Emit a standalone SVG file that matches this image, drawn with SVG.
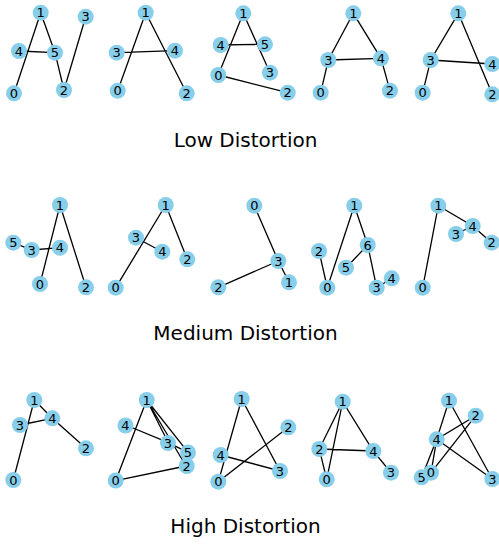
<svg xmlns="http://www.w3.org/2000/svg" width="499" height="545" viewBox="0 0 499 545">
<style>
.e{stroke:#000;stroke-width:1.3;fill:none}
.n use{fill:#87CEEB}
.n text{font-family:"DejaVu Sans",sans-serif;font-size:13px;fill:#000;text-anchor:middle}
.t{font-family:"DejaVu Sans",sans-serif;font-size:20px;fill:#000;text-anchor:middle}
</style>
<rect width="499" height="545" fill="#fff"/>
<defs><circle id="c" r="8" fill="#87CEEB"/></defs>
<g id="connectors">
<path class="e" d="M40.7,12.7L14,93.3M40.7,12.7L55,52.7M55,52.7L64,90M64,90L85.7,16.7M19,51L55,52.7"/>
<path class="e" d="M145.7,12.7L117.7,90.7M145.7,12.7L186.7,93.3M116.7,52.7L175,50.7"/>
<path class="e" d="M243.3,13.3L218.3,75M243.3,13.3L270,72.7M220.7,45L265,44.3M218.3,75L287.7,92.7"/>
<path class="e" d="M353.3,13.3L328.3,60L320.7,92.7M353.3,13.3L381,58.3L390,90.7M328.3,60L381,58.3"/>
<path class="e" d="M458.3,13.3L430.7,60L422.7,92.7M458.3,13.3L492.3,94.3M430.7,60L492.3,64"/>
<path class="e" d="M60,205L40,284M60,205L86,287.3M13.3,242.7L31.7,250L60,247.7"/>
<path class="e" d="M165.7,205L115.7,287.7M165.7,205L187.3,259.3M136,237.7L162.3,251.7"/>
<path class="e" d="M254.3,205.7L278.3,261L289,282.3M278.3,261L218.3,287.3"/>
<path class="e" d="M354.3,205.7L327.3,287.7L319,251M354.3,205.7L367.7,245L376.7,287.7L391.7,278.3M367.7,245L346,267.7"/>
<path class="e" d="M438.3,205.7L422.7,287.7M438.3,205.7L472.7,226L491.7,242.7M472.7,226L456,234"/>
<path class="e" d="M34.3,400L13.3,480M34.3,400L52.3,418.3L86,448.3M20,425L52.3,418.3"/>
<path class="e" d="M146.7,400L115.7,480.7L186,466M146.7,400L168.3,442.7M146.7,400L186,466M146.7,400L188.3,452.7M125.7,425L168.3,442.7L188.3,452.7"/>
<path class="e" d="M241.7,399L218.3,481.7L288.3,427.3M241.7,399L280,471L220.7,455"/>
<path class="e" d="M342.7,401.7L319.3,449L326.7,479.3L342.7,401.7L373.3,451L391,472.7M319.3,449L373.3,451"/>
<path class="e" d="M449,400.7L436.7,439.3L475.7,415.7L431,472.7L436.7,439.3L421.7,477.3M449,400.7L492.3,479L436.7,439.3"/>
</g>
<g id="r1p1" class="n">
<use href="#c" x="14" y="93.3"/><text x="14" y="98">0</text>
<use href="#c" x="40.7" y="12.7"/><text x="40.7" y="17.4">1</text>
<use href="#c" x="64" y="90"/><text x="64" y="94.7">2</text>
<use href="#c" x="85.7" y="16.7"/><text x="85.7" y="21.4">3</text>
<use href="#c" x="19" y="51"/><text x="19" y="55.7">4</text>
<use href="#c" x="55" y="52.7"/><text x="55" y="57.4">5</text>
</g>
<g id="r1p2" class="n">
<use href="#c" x="117.7" y="90.7"/><text x="117.7" y="95.4">0</text>
<use href="#c" x="145.7" y="12.7"/><text x="145.7" y="17.4">1</text>
<use href="#c" x="186.7" y="93.3"/><text x="186.7" y="98">2</text>
<use href="#c" x="116.7" y="52.7"/><text x="116.7" y="57.4">3</text>
<use href="#c" x="175" y="50.7"/><text x="175" y="55.4">4</text>
</g>
<g id="r1p3" class="n">
<use href="#c" x="218.3" y="75"/><text x="218.3" y="79.7">0</text>
<use href="#c" x="243.3" y="13.3"/><text x="243.3" y="18">1</text>
<use href="#c" x="287.7" y="92.7"/><text x="287.7" y="97.4">2</text>
<use href="#c" x="270" y="72.7"/><text x="270" y="77.4">3</text>
<use href="#c" x="220.7" y="45"/><text x="220.7" y="49.7">4</text>
<use href="#c" x="265" y="44.3"/><text x="265" y="49">5</text>
</g>
<g id="r1p4" class="n">
<use href="#c" x="320.7" y="92.7"/><text x="320.7" y="97.4">0</text>
<use href="#c" x="353.3" y="13.3"/><text x="353.3" y="18">1</text>
<use href="#c" x="390" y="90.7"/><text x="390" y="95.4">2</text>
<use href="#c" x="328.3" y="60"/><text x="328.3" y="64.7">3</text>
<use href="#c" x="381" y="58.3"/><text x="381" y="63">4</text>
</g>
<g id="r1p5" class="n">
<use href="#c" x="422.7" y="92.7"/><text x="422.7" y="97.4">0</text>
<use href="#c" x="458.3" y="13.3"/><text x="458.3" y="18">1</text>
<use href="#c" x="492.3" y="94.3"/><text x="492.3" y="99">2</text>
<use href="#c" x="430.7" y="60"/><text x="430.7" y="64.7">3</text>
<use href="#c" x="492.3" y="64"/><text x="492.3" y="68.7">4</text>
</g>
<g id="r2p1" class="n">
<use href="#c" x="40" y="284"/><text x="40" y="288.7">0</text>
<use href="#c" x="60" y="205"/><text x="60" y="209.7">1</text>
<use href="#c" x="86" y="287.3"/><text x="86" y="292">2</text>
<use href="#c" x="31.7" y="250"/><text x="31.7" y="254.7">3</text>
<use href="#c" x="60" y="247.7"/><text x="60" y="252.4">4</text>
<use href="#c" x="13.3" y="242.7"/><text x="13.3" y="247.4">5</text>
</g>
<g id="r2p2" class="n">
<use href="#c" x="115.7" y="287.7"/><text x="115.7" y="292.4">0</text>
<use href="#c" x="165.7" y="205"/><text x="165.7" y="209.7">1</text>
<use href="#c" x="187.3" y="259.3"/><text x="187.3" y="264">2</text>
<use href="#c" x="136" y="237.7"/><text x="136" y="242.4">3</text>
<use href="#c" x="162.3" y="251.7"/><text x="162.3" y="256.4">4</text>
</g>
<g id="r2p3" class="n">
<use href="#c" x="254.3" y="205.7"/><text x="254.3" y="210.4">0</text>
<use href="#c" x="289" y="282.3"/><text x="289" y="287">1</text>
<use href="#c" x="218.3" y="287.3"/><text x="218.3" y="292">2</text>
<use href="#c" x="278.3" y="261"/><text x="278.3" y="265.7">3</text>
</g>
<g id="r2p4" class="n">
<use href="#c" x="327.3" y="287.7"/><text x="327.3" y="292.4">0</text>
<use href="#c" x="354.3" y="205.7"/><text x="354.3" y="210.4">1</text>
<use href="#c" x="319" y="251"/><text x="319" y="255.7">2</text>
<use href="#c" x="376.7" y="287.7"/><text x="376.7" y="292.4">3</text>
<use href="#c" x="391.7" y="278.3"/><text x="391.7" y="283">4</text>
<use href="#c" x="346" y="267.7"/><text x="346" y="272.4">5</text>
<use href="#c" x="367.7" y="245"/><text x="367.7" y="249.7">6</text>
</g>
<g id="r2p5" class="n">
<use href="#c" x="422.7" y="287.7"/><text x="422.7" y="292.4">0</text>
<use href="#c" x="438.3" y="205.7"/><text x="438.3" y="210.4">1</text>
<use href="#c" x="491.7" y="242.7"/><text x="491.7" y="247.4">2</text>
<use href="#c" x="456" y="234"/><text x="456" y="238.7">3</text>
<use href="#c" x="472.7" y="226"/><text x="472.7" y="230.7">4</text>
</g>
<g id="r3p1" class="n">
<use href="#c" x="13.3" y="480"/><text x="13.3" y="484.7">0</text>
<use href="#c" x="34.3" y="400"/><text x="34.3" y="404.7">1</text>
<use href="#c" x="86" y="448.3"/><text x="86" y="453">2</text>
<use href="#c" x="20" y="425"/><text x="20" y="429.7">3</text>
<use href="#c" x="52.3" y="418.3"/><text x="52.3" y="423">4</text>
</g>
<g id="r3p2" class="n">
<use href="#c" x="115.7" y="480.5"/><text x="115.7" y="485.2">0</text>
<use href="#c" x="146.7" y="400"/><text x="146.7" y="404.7">1</text>
<use href="#c" x="125.5" y="425.5"/><text x="125.5" y="430.2">4</text>
<use href="#c" x="168" y="443"/><text x="168" y="447.7">3</text>
<use href="#c" x="188" y="452.5"/><text x="188" y="456.8">5</text>
<use href="#c" x="186.7" y="466"/><text x="186.7" y="471">2</text>
</g>
<g id="r3p3" class="n">
<use href="#c" x="218.3" y="481.7"/><text x="218.3" y="486.4">0</text>
<use href="#c" x="241.7" y="399"/><text x="241.7" y="403.7">1</text>
<use href="#c" x="288.3" y="427.3"/><text x="288.3" y="432">2</text>
<use href="#c" x="280" y="471"/><text x="280" y="475.7">3</text>
<use href="#c" x="220.7" y="455"/><text x="220.7" y="459.7">4</text>
</g>
<g id="r3p4" class="n">
<use href="#c" x="326.7" y="479.3"/><text x="326.7" y="484">0</text>
<use href="#c" x="342.7" y="401.7"/><text x="342.7" y="406.4">1</text>
<use href="#c" x="319.3" y="449"/><text x="319.3" y="453.7">2</text>
<use href="#c" x="391" y="472.7"/><text x="391" y="477.4">3</text>
<use href="#c" x="373.3" y="451"/><text x="373.3" y="455.7">4</text>
</g>
<g id="r3p5" class="n">
<use href="#c" x="449" y="400.7"/><text x="449" y="405.4">1</text>
<use href="#c" x="475.7" y="415.7"/><text x="475.7" y="420.4">2</text>
<use href="#c" x="436.7" y="439.3"/><text x="436.7" y="444">4</text>
<use href="#c" x="492.3" y="479"/><text x="492.3" y="483.7">3</text>
<use href="#c" x="421.7" y="477.3"/><text x="421.7" y="482">5</text>
<use href="#c" x="431" y="472.7"/><text x="431" y="477.4">0</text>
</g>
<text class="t" x="245.5" y="146.5">Low Distortion</text>
<text class="t" x="245.5" y="339.5">Medium Distortion</text>
<text class="t" x="245.5" y="532.5">High Distortion</text>
</svg>
